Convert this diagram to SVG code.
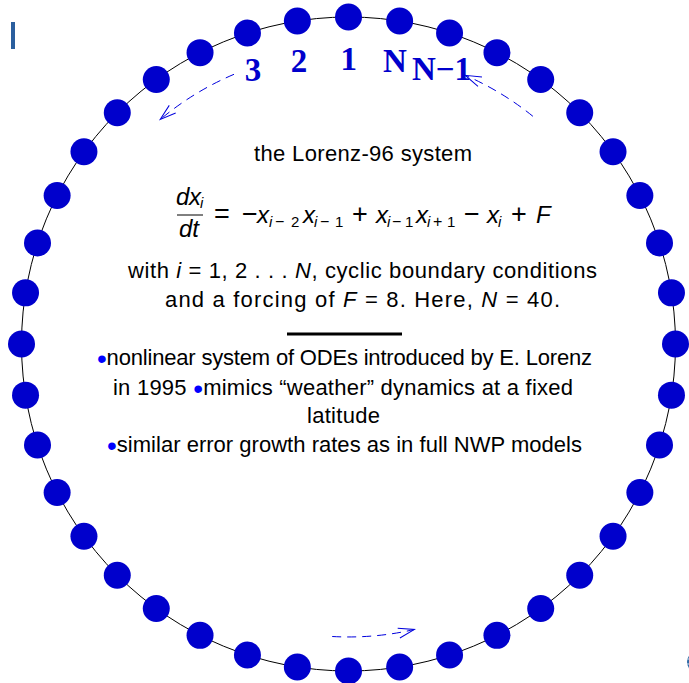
<svg xmlns="http://www.w3.org/2000/svg" width="689" height="683" viewBox="0 0 689 683">
<style>
.node{fill:#0000cc}
.lbl{font-family:"Liberation Serif",serif;font-weight:bold;font-size:33px;fill:#0000cc;text-anchor:middle}
.t{font-family:"Liberation Sans",sans-serif;font-size:22px;fill:#000}
.c{text-anchor:middle}
.it{font-style:italic}
.v{font-size:24px;font-style:italic}
.op{font-size:27px}
.sub{font-size:15px}
.sop{font-size:16px}
.b{fill:#0000ff;font-size:28px}
.arc{fill:none;stroke:#0000dd;stroke-width:1;stroke-dasharray:9 6}
</style>
<defs>
<marker id="ah" markerUnits="userSpaceOnUse" markerWidth="20" markerHeight="14" viewBox="-17 -7 20 14" refX="0" refY="0" orient="auto">
<path d="M-16,-5 L0,0 L-16,5" fill="none" stroke="#0000dd" stroke-width="1"/>
</marker>
</defs>
<rect width="689" height="683" fill="#fff"/>
<rect x="11" y="22" width="4" height="27" fill="#2b5f9e"/>
<g id="logo">
<circle cx="698" cy="662" r="11" fill="#2f6aa6"/>
<path d="M687,659 H689 M687,664 H689" stroke="#cfe0f0" stroke-width="1"/>
</g>
<g id="connectors">
<circle cx="348.5" cy="344" r="327" fill="none" stroke="#000" stroke-width="1"/>
<path class="arc" d="M234,74.3 A293,293 0 0 0 160.2,119.5" marker-end="url(#ah)"/>
<path class="arc" d="M532.9,116.3 A293,293 0 0 0 465.3,75.3" marker-end="url(#ah)"/>
<path class="arc" d="M332.2,636.5 A293,293 0 0 0 414.4,629.5" marker-end="url(#ah)"/>
</g>
<g id="nodes">
<g id="n1"><circle class="node" cx="348.5" cy="17" r="13.5"/></g>
<g id="n2"><circle class="node" cx="297.35" cy="21.03" r="13.5"/></g>
<g id="n3"><circle class="node" cx="247.45" cy="33" r="13.5"/></g>
<g id="n4"><circle class="node" cx="200.05" cy="52.64" r="13.5"/></g>
<g id="n5"><circle class="node" cx="156.29" cy="79.45" r="13.5"/></g>
<g id="n6"><circle class="node" cx="117.28" cy="112.78" r="13.5"/></g>
<g id="n7"><circle class="node" cx="83.95" cy="151.79" r="13.5"/></g>
<g id="n8"><circle class="node" cx="57.14" cy="195.55" r="13.5"/></g>
<g id="n9"><circle class="node" cx="37.5" cy="242.95" r="13.5"/></g>
<g id="n10"><circle class="node" cx="25.53" cy="292.85" r="13.5"/></g>
<g id="n11"><circle class="node" cx="21.5" cy="344" r="13.5"/></g>
<g id="n12"><circle class="node" cx="25.53" cy="395.15" r="13.5"/></g>
<g id="n13"><circle class="node" cx="37.5" cy="445.05" r="13.5"/></g>
<g id="n14"><circle class="node" cx="57.14" cy="492.45" r="13.5"/></g>
<g id="n15"><circle class="node" cx="83.95" cy="536.21" r="13.5"/></g>
<g id="n16"><circle class="node" cx="117.28" cy="575.22" r="13.5"/></g>
<g id="n17"><circle class="node" cx="156.29" cy="608.55" r="13.5"/></g>
<g id="n18"><circle class="node" cx="200.05" cy="635.36" r="13.5"/></g>
<g id="n19"><circle class="node" cx="247.45" cy="655" r="13.5"/></g>
<g id="n20"><circle class="node" cx="297.35" cy="666.97" r="13.5"/></g>
<g id="n21"><circle class="node" cx="348.5" cy="671" r="13.5"/></g>
<g id="n22"><circle class="node" cx="399.65" cy="666.97" r="13.5"/></g>
<g id="n23"><circle class="node" cx="449.55" cy="655" r="13.5"/></g>
<g id="n24"><circle class="node" cx="496.95" cy="635.36" r="13.5"/></g>
<g id="n25"><circle class="node" cx="540.71" cy="608.55" r="13.5"/></g>
<g id="n26"><circle class="node" cx="579.72" cy="575.22" r="13.5"/></g>
<g id="n27"><circle class="node" cx="613.05" cy="536.21" r="13.5"/></g>
<g id="n28"><circle class="node" cx="639.86" cy="492.45" r="13.5"/></g>
<g id="n29"><circle class="node" cx="659.5" cy="445.05" r="13.5"/></g>
<g id="n30"><circle class="node" cx="671.47" cy="395.15" r="13.5"/></g>
<g id="n31"><circle class="node" cx="675.5" cy="344" r="13.5"/></g>
<g id="n32"><circle class="node" cx="671.47" cy="292.85" r="13.5"/></g>
<g id="n33"><circle class="node" cx="659.5" cy="242.95" r="13.5"/></g>
<g id="n34"><circle class="node" cx="639.86" cy="195.55" r="13.5"/></g>
<g id="n35"><circle class="node" cx="613.05" cy="151.79" r="13.5"/></g>
<g id="n36"><circle class="node" cx="579.72" cy="112.78" r="13.5"/></g>
<g id="n37"><circle class="node" cx="540.71" cy="79.45" r="13.5"/></g>
<g id="n38"><circle class="node" cx="496.95" cy="52.64" r="13.5"/></g>
<g id="n39"><circle class="node" cx="449.55" cy="33" r="13.5"/></g>
<g id="n40"><circle class="node" cx="399.65" cy="21.03" r="13.5"/></g>
</g>
<g id="labels">
<text class="lbl" x="348.7" y="70">1</text>
<text class="lbl" x="299" y="72">2</text>
<text class="lbl" x="253" y="81">3</text>
<text class="lbl" x="395" y="72">N</text>
<text class="lbl" x="441.5" y="80">N−1</text>
</g>
<g id="description">
<text class="t c" x="363" y="161" textLength="218">the Lorenz-96 system</text>
<text class="t" y="205"><tspan class="v" x="176">d</tspan><tspan class="v" x="189">x</tspan><tspan class="it sub" x="200" y="208">i</tspan></text>
<line x1="177" y1="215" x2="203" y2="215" stroke="#000" stroke-width="1"/>
<text class="t" y="237"><tspan class="v" x="179">dt</tspan></text>
<text class="t" y="223">
<tspan x="214" class="op">=</tspan>
<tspan x="242" class="op">−</tspan><tspan x="257" class="v">x</tspan><tspan x="269" y="227" class="it sub">i</tspan><tspan x="275" y="227" class="sop">−</tspan><tspan x="291" y="227" class="sub">2</tspan>
<tspan x="303" y="223" class="v">x</tspan><tspan x="314" y="227" class="it sub">i</tspan><tspan x="320" y="227" class="sop">−</tspan><tspan x="335" y="227" class="sub">1</tspan>
<tspan x="352" y="223" class="op">+</tspan>
<tspan x="376" y="223" class="v">x</tspan><tspan x="387" y="227" class="it sub">i</tspan><tspan x="392" y="227" class="sop">−</tspan><tspan x="405" y="227" class="sub">1</tspan>
<tspan x="416" y="223" class="v">x</tspan><tspan x="427" y="227" class="it sub">i</tspan><tspan x="433" y="227" class="sop">+</tspan><tspan x="447" y="227" class="sub">1</tspan>
<tspan x="464" y="223" class="op">−</tspan>
<tspan x="487" y="223" class="v">x</tspan><tspan x="498" y="227" class="it sub">i</tspan>
<tspan x="511" y="223" class="op">+</tspan>
<tspan x="536" y="223" class="v">F</tspan>
</text>
<text class="t c" x="362.5" y="278" textLength="469">with <tspan class="it">i</tspan> = 1, 2 . . . <tspan class="it">N</tspan>, cyclic boundary conditions</text>
<text class="t c" x="362.5" y="307" textLength="395">and a forcing of <tspan class="it">F</tspan> = 8. Here, <tspan class="it">N</tspan> = 40.</text>
<line x1="287" y1="334" x2="402" y2="334" stroke="#000" stroke-width="3"/>
<text class="t c" x="344.5" y="365" textLength="495"><tspan class="b" dy="3">•</tspan><tspan dy="-3">nonlinear system of ODEs introduced by E. Lorenz</tspan></text>
<text class="t c" x="343" y="395" textLength="460">in 1995  <tspan class="b" dy="3">•</tspan><tspan dy="-3">mimics “weather” dynamics at a fixed</tspan></text>
<text class="t c" x="343.5" y="423" textLength="73">latitude</text>
<text class="t c" x="344.5" y="452" textLength="475"><tspan class="b" dy="3">•</tspan><tspan dy="-3">similar error growth rates as in full NWP models</tspan></text>
</g>
</svg>
